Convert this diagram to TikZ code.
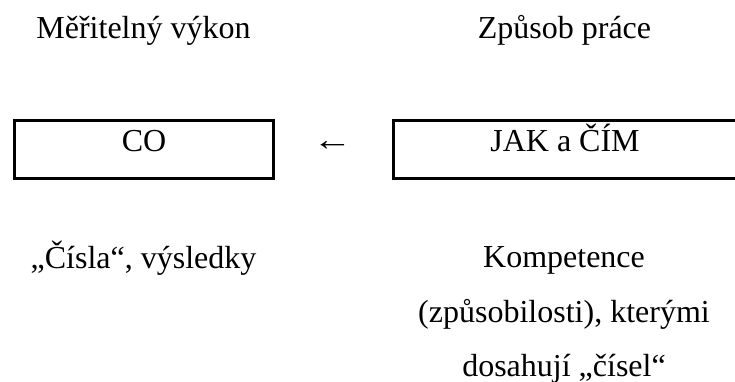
\documentclass[tikz,border=0pt]{standalone}
\usepackage{fontspec}
\setmainfont{Liberation Serif}
\begin{document}
\begin{tikzpicture}[x=1pt,y=1pt,
  txt/.style={inner sep=0pt,font=\fontsize{32}{54.6}\selectfont},
  box/.style={txt,draw,line width=3.3pt,text height=31.5pt,text depth=26.5pt}]
\useasboundingbox (0,0) rectangle (735,-382);
\clip (0,0) rectangle (735,-382);
\node[txt,anchor=base] (l1) at (143.5,-39) {Měřitelný výkon};
\node[txt,anchor=base] (l2) at (564.5,-39) {Způsob práce};
\node[box,anchor=base,minimum width=259pt] (co) at (144,-152) {CO};
\node[box,anchor=base,minimum width=342.6pt] (jak) at (565,-152) {JAK a ČÍM};
\node[txt,anchor=base] (arr) at (332.5,-150) {\scalebox{1.24}[1]{←}};
\node[txt,anchor=base] (b1) at (143.5,-268) {„Čísla“, výsledky};
\node[txt,anchor=base,align=center] (b2) at (564,-376.7) {Kompetence\\(způsobilosti), kterými\\dosahují „čísel“};
\end{tikzpicture}
\end{document}
